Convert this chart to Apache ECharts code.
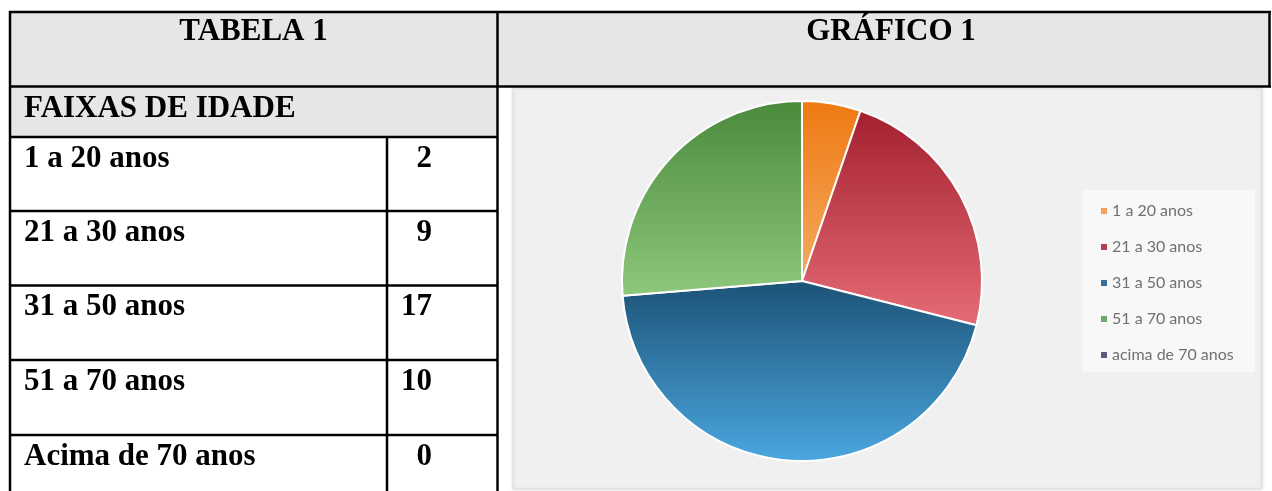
<!DOCTYPE html>
<html>
<head>
<meta charset="utf-8">
<script src="https://cdn.jsdelivr.net/npm/echarts@6/dist/echarts.min.js"></script>
<style>
html,body{margin:0;padding:0;background:#fff;}
#chart{width:1272px;height:491px;}
</style>
</head>
<body>
<div id="chart"></div>
<script>
// ---- data ----
var tableTitle = 'TABELA 1';
var chartTitle = 'GRÁFICO 1';
var tableHeader = 'FAIXAS DE IDADE';
var tableLabels = ['1 a 20 anos', '21 a 30 anos', '31 a 50 anos', '51 a 70 anos', 'Acima de 70 anos'];
var legendNames = ['1 a 20 anos', '21 a 30 anos', '31 a 50 anos', '51 a 70 anos', 'acima de 70 anos'];
var values = [2, 9, 17, 10, 0];

// ---- styles ----
var gradTop = ['#ee7a12', '#a3202f', '#1c5276', '#4a8a3b', '#4b4670'];
var gradBottom = ['#f6aa62', '#e56c76', '#4ba7e0', '#8ec87d', '#7a76a0'];
var legendColors = ['#f0a35a', '#b5404f', '#3a6e98', '#6fa86d', '#5e5a80'];

var chart = echarts.init(document.getElementById('chart'), null, {renderer: 'canvas'});

var serif = 'bold 31px "Liberation Serif", "Times New Roman", serif';
var lineC = '#000';
var LW = 2.5;

var rowLines = [137, 211, 285.5, 360, 435];
var rowTops = [137, 211, 285.5, 360, 435];

var g = [];
// header backgrounds
g.push({type: 'rect', shape: {x: 10, y: 12, width: 1260, height: 75}, style: {fill: '#e6e6e6'}, silent: true});
g.push({type: 'rect', shape: {x: 10, y: 87, width: 487, height: 50}, style: {fill: '#e6e6e6'}, silent: true});
// chart box
g.push({type: 'rect', shape: {x: 513, y: 88, width: 749, height: 401},
  style: {fill: '#f0f0f0', stroke: '#dadada', lineWidth: 1, shadowBlur: 4, shadowColor: 'rgba(0,0,0,0.12)'}, silent: true});
// legend box
g.push({type: 'rect', shape: {x: 1083, y: 190, width: 172, height: 182}, style: {fill: '#f8f8f8'}, silent: true});

function hline(y, x1, x2) {
  g.push({type: 'line', shape: {x1: x1, y1: y, x2: x2, y2: y}, style: {stroke: lineC, lineWidth: LW}, silent: true});
}
function vline(x, y1, y2) {
  g.push({type: 'line', shape: {x1: x, y1: y1, x2: x, y2: y2}, style: {stroke: lineC, lineWidth: LW}, silent: true});
}
hline(12, 9, 1271);
hline(86.5, 9, 1271);
rowLines.forEach(function (y) { hline(y, 9, 498); });
vline(10, 11, 491);
vline(387, 137, 491);
vline(497.5, 11, 491);
vline(1269.5, 11, 87);

function txt(s, x, y, align) {
  g.push({type: 'text', silent: true,
    style: {text: s, x: x, y: y, font: serif, fill: '#000', align: align || 'left', verticalAlign: 'middle'}});
}
txt(tableTitle, 253.5, 32, 'center');
txt(chartTitle, 891, 32, 'center');
txt(tableHeader, 24, 109, 'left');
tableLabels.forEach(function (s, i) {
  txt(s, 24, rowTops[i] + 21.5, 'left');
  txt(String(values[i]), 432, rowTops[i] + 21.5, 'right');
});

var pieData = legendNames.map(function (n, i) {
  return {
    name: n,
    value: values[i],
    itemStyle: {
      color: new echarts.graphic.LinearGradient(0, 0, 0, 1, [
        {offset: 0, color: gradTop[i]},
        {offset: 1, color: gradBottom[i]}
      ]),
      borderColor: '#ffffff',
      borderWidth: values[i] === 0 ? 0 : 2
    }
  };
});

chart.setOption({
  animation: false,
  graphic: {elements: g},
  legend: {
    orient: 'vertical',
    left: 1096,
    top: 198,
    itemWidth: 6,
    itemHeight: 6,
    itemGap: 20,
    icon: 'rect',
    textStyle: {color: '#707070', fontSize: 16, fontFamily: 'Lato, "Open Sans", sans-serif', lineHeight: 16},
    data: legendNames.map(function (n, i) {
      return {name: n, itemStyle: {color: legendColors[i], borderWidth: 0}};
    }),
    selectedMode: false
  },
  series: [{
    type: 'pie',
    center: [802, 281],
    radius: [0, 180],
    startAngle: 90,
    clockwise: true,
    minAngle: 0,
    label: {show: false},
    labelLine: {show: false},
    emphasis: {disabled: true},
    data: pieData
  }]
});
</script>
</body>
</html>
